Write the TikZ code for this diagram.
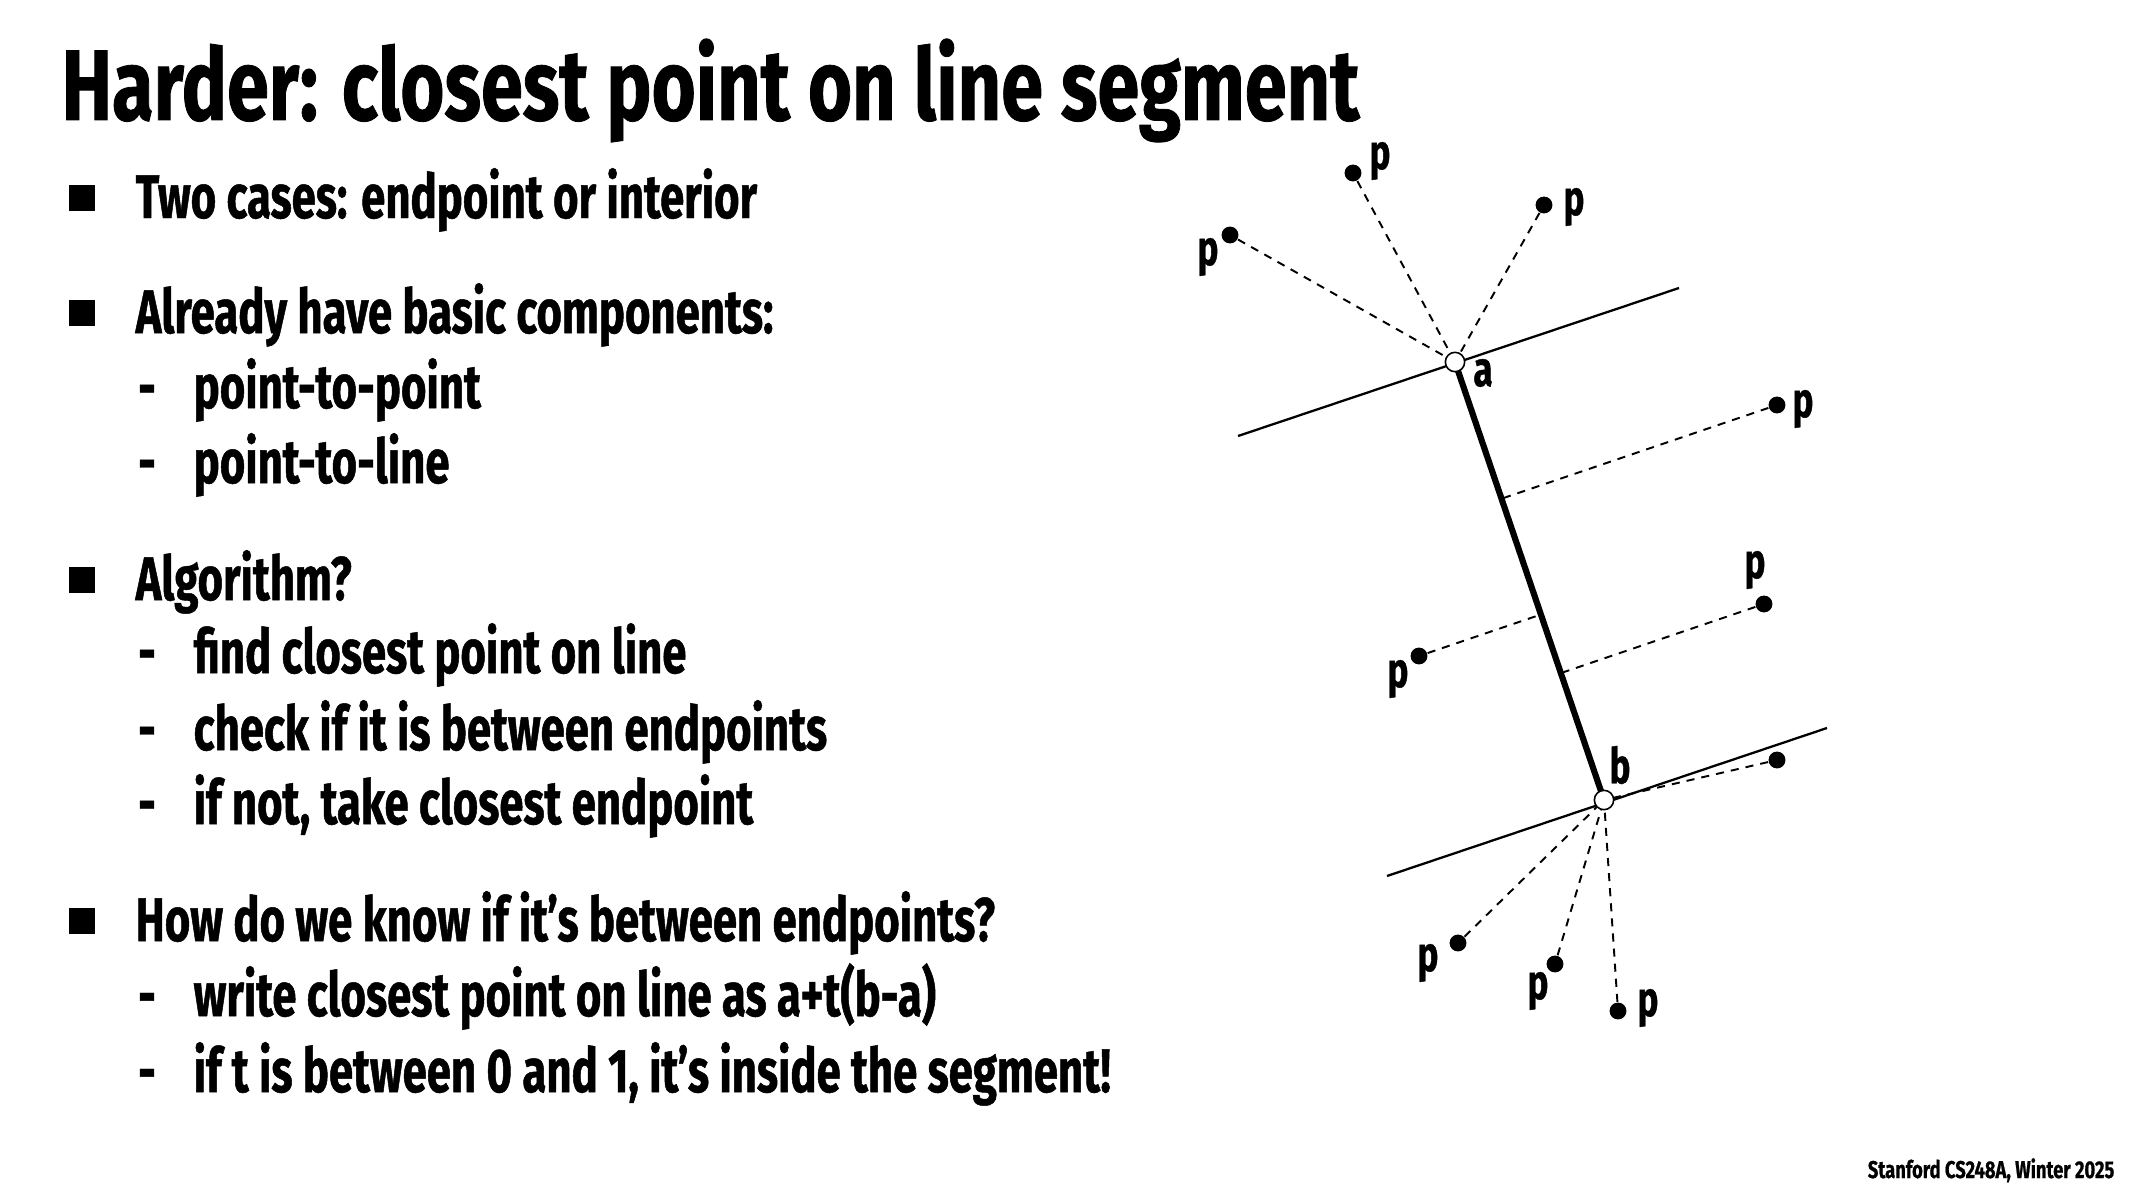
\documentclass[tikz,border=0pt]{standalone}
\usepackage{fontspec}
\setmainfont{Fira Sans}[FakeStretch=0.71, FakeBold=0.8]
\newfontfamily\titlefont{Fira Sans}[FakeStretch=0.755, FakeBold=0.8]
\usetikzlibrary{calc}

\tikzset{
  item/.style={anchor=base west, inner sep=0pt, font=\bfseries\fontsize{17.5}{20}\selectfont},
  subdash/.style={anchor=base, inner sep=0pt, font=\bfseries\fontsize{17.5}{20}\selectfont},
  sqbullet/.style={fill=black, minimum size=7.4pt, inner sep=0pt},
  dot/.style={circle, fill=black, minimum size=4.8pt, inner sep=0pt},
  endpt/.style={circle, draw=black, fill=white, line width=0.45pt, minimum size=5.5pt, inner sep=0pt},
  plabel/.style={inner sep=0pt, font=\bfseries\fontsize{14}{16}\selectfont},
  proj/.style={dash pattern=on 2.3pt off 2pt, line width=0.55pt},
}

\begin{document}
\begin{tikzpicture}[x=0.01cm, y=-0.01cm]
    \useasboundingbox (0,0) rectangle (2133,1200);

    % Title and text
    \node[anchor=base west, inner sep=0pt, font=\titlefont\bfseries\fontsize{28.5}{32}\selectfont]
        (title) at (61,120) {Harder: closest point on line segment};

    \node[sqbullet] (b1) at (82,198) {};
    \node[item] (t1) at (135,218) {Two cases: endpoint or interior};

    \node[sqbullet] (b2) at (82,313) {};
    \node[item] (t2) at (135,333) {Already have basic components:};
    \node[subdash] (d21) at (147,408) {-};
    \node[item] (t21) at (193,408) {point-to-point};
    \node[subdash] (d22) at (147,483) {-};
    \node[item] (t22) at (193,483) {point-to-line};

    \node[sqbullet] (b3) at (82,580) {};
    \node[item] (t3) at (135,600) {Algorithm?};
    \node[subdash] (d31) at (147,673) {-};
    \node[item] (t31) at (193,673) {find closest point on line};
    \node[subdash] (d32) at (147,750) {-};
    \node[item] (t32) at (193,750) {check if it is between endpoints};
    \node[subdash] (d33) at (147,824) {-};
    \node[item] (t33) at (193,824) {if not, take closest endpoint};

    \node[sqbullet] (b4) at (82,921) {};
    \node[item] (t4) at (135,941) {How do we know if it’s between endpoints?};
    \node[subdash] (d41) at (147,1016) {-};
    \node[item] (t41) at (193,1016) {write closest point on line as a+t(b-a)};
    \node[subdash] (d42) at (147,1092) {-};
    \node[item] (t42) at (193,1092) {if t is between 0 and 1, it’s inside the segment!};

    \node[anchor=base east, inner sep=0pt, font=\titlefont\bfseries\fontsize{6.9}{8}\selectfont]
        (footer) at (2115,1178) {Stanford CS248A, Winter 2025};

    % Segment end points and the lines through them
    \coordinate (a) at (1455,362);
    \coordinate (b) at (1604,800);
    \coordinate (la1) at (1238,436);
    \coordinate (la2) at (1679,288);
    \coordinate (lb1) at (1387,876);
    \coordinate (lb2) at (1827,728);

    \draw[line width=0.65pt] (la1) -- (la2);
    \draw[line width=0.65pt] (lb1) -- (lb2);
    \draw[line width=1.75pt] (a) -- (b);

    % Query points
    \node[dot] (p1) at (1230,235) {};
    \node[dot] (p2) at (1353,173) {};
    \node[dot] (p3) at (1544,205) {};
    \node[dot] (p4) at (1777,405) {};
    \node[dot] (p5) at (1764,604) {};
    \node[dot] (p6) at (1419,656) {};
    \node[dot] (p7) at (1777,760) {};
    \node[dot] (p8) at (1458,943) {};
    \node[dot] (p9) at (1555,964) {};
    \node[dot] (p10) at (1618,1011) {};

    \node[plabel] (p1l) at (1208,257) {p};
    \node[plabel] (p2l) at (1380,161) {p};
    \node[plabel] (p3l) at (1574,207) {p};
    \node[plabel] (p4l) at (1803,409) {p};
    \node[plabel] (p5l) at (1755,570) {p};
    \node[plabel] (p6l) at (1398,679) {p};
    \node[plabel] (p8l) at (1428,963) {p};
    \node[plabel] (p9l) at (1538,991) {p};
    \node[plabel] (p10l) at (1648,1008) {p};

    % Distances to the segment
    \draw[proj] (p1) -- (a);
    \draw[proj] (p2) -- (a);
    \draw[proj] (p3) -- (a);
    \draw[proj] (p4) -- ($(a)!(p4)!(b)$);
    \draw[proj] (p5) -- ($(a)!(p5)!(b)$);
    \draw[proj] (p6) -- ($(a)!(p6)!(b)$);
    \draw[proj] (p7) -- (b);
    \draw[proj] (p8) -- (b);
    \draw[proj] (p9) -- (b);
    \draw[proj] (p10) -- (b);

    \node[endpt] (na) at (a) {};
    \node[endpt] (nb) at (b) {};
    \node[plabel] (al) at (1483,373) {a};
    \node[plabel] (bl) at (1620,765) {b};
  \end{tikzpicture}
\end{document}
